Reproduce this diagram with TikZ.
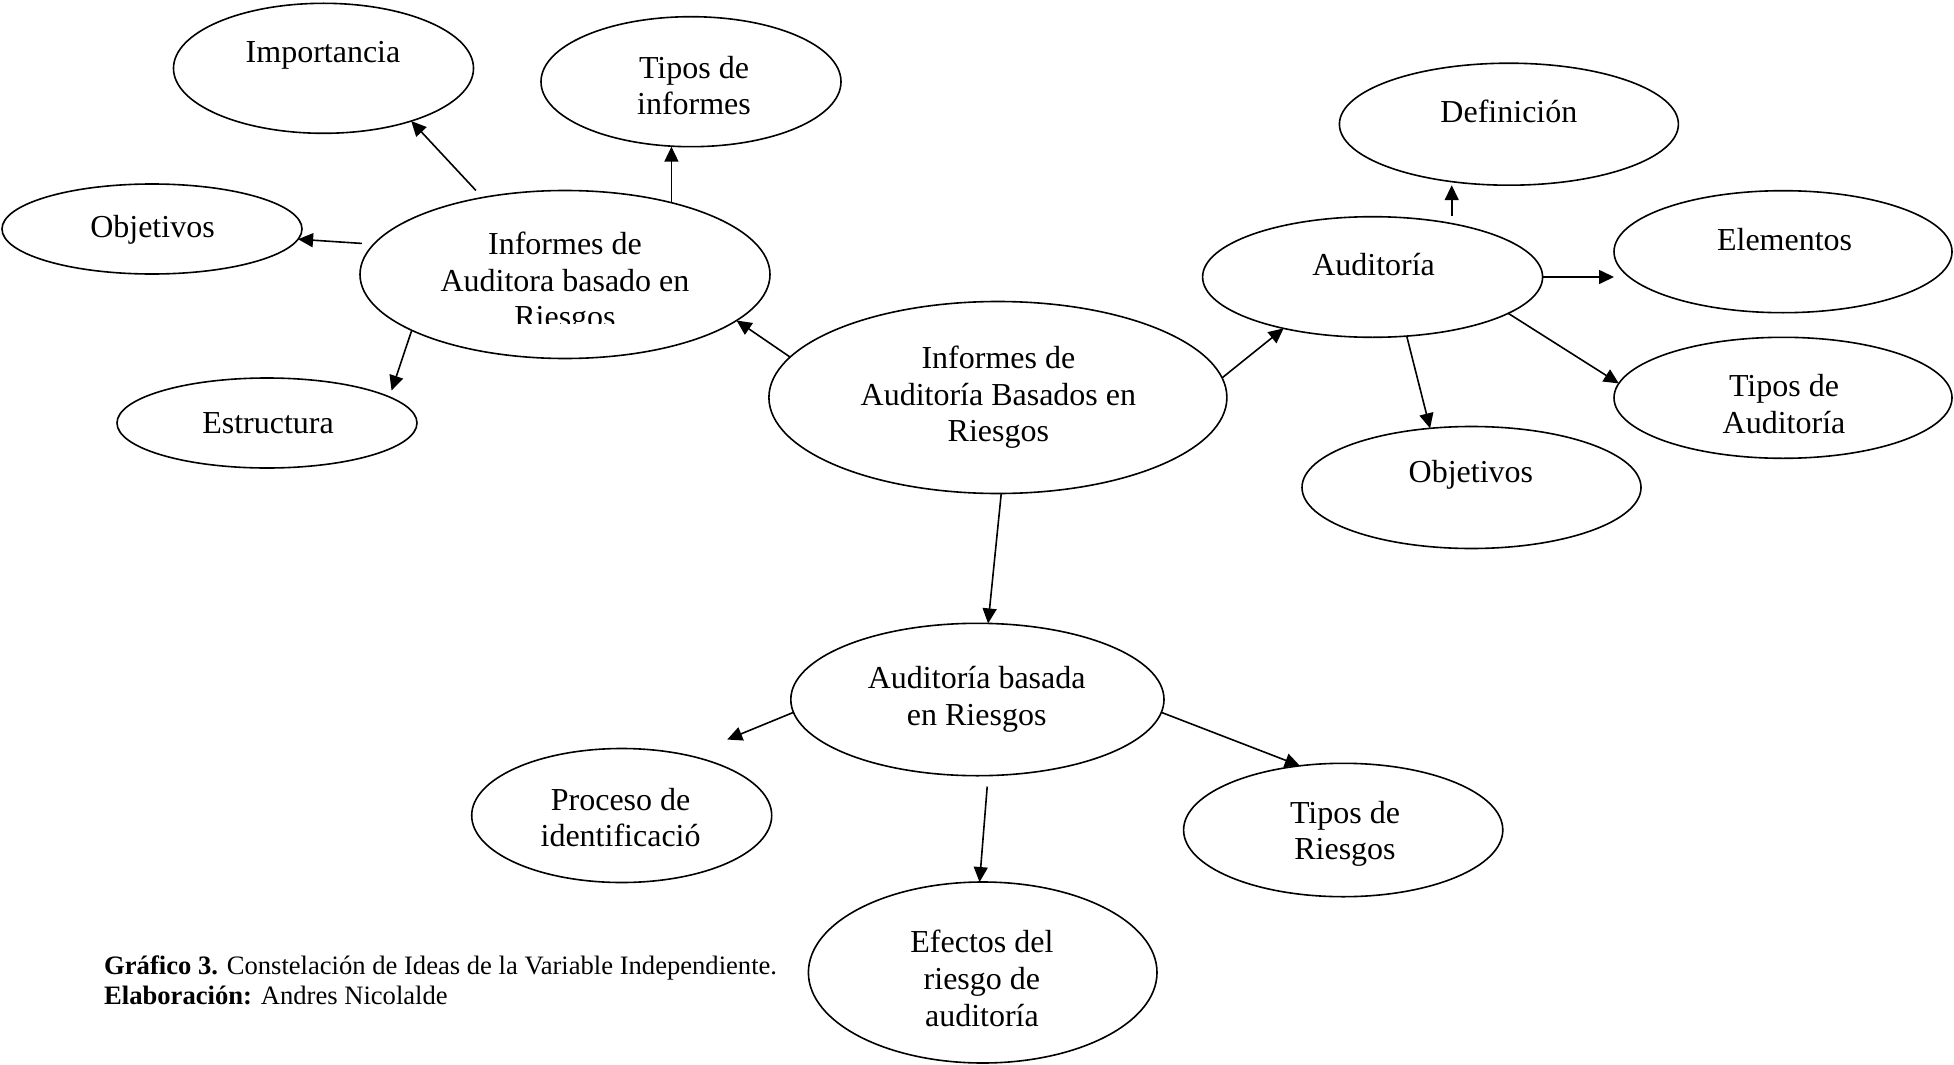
\documentclass[tikz,border=0pt]{standalone}
\usepackage{fontspec}
\setmainfont{Liberation Serif}
\usetikzlibrary{shapes.geometric,arrows.meta}
\begin{document}
\begin{tikzpicture}[x=0.5pt,y=-0.5pt,
  ell/.style={draw, ellipse, line width=0.8pt, inner sep=0pt, outer sep=0pt},
  txt/.style={font=\fontsize{16}{18.3}\selectfont, align=center, inner sep=0pt},
  arr/.style={line width=0.8pt, -{Triangle[length=7.5pt,width=7pt]}},
  capt/.style={font=\fontsize{13.3}{15}\selectfont, align=left, anchor=west, inner sep=0pt}
  ]
\useasboundingbox (0,0) rectangle (1954,1065);

% ellipses
\node[ell, minimum width=150pt, minimum height=65pt] (imp) at (323.5,68.3) {};
\node[ell, minimum width=150pt, minimum height=65pt] (tinf) at (691,81.7) {};
\node[ell, minimum width=150pt, minimum height=45pt] (objl) at (152,229) {};
\node[ell, minimum width=205pt, minimum height=84pt] (inf) at (565,274.5) {};
\node[ell, minimum width=150pt, minimum height=45pt] (estr) at (267,423) {};
\node[ell, minimum width=229pt, minimum height=96pt] (cen) at (997.9,397.5) {};
\node[ell, minimum width=169.5pt, minimum height=61pt] (def) at (1508.9,124.2) {};
\node[ell, minimum width=170pt, minimum height=60.3pt] (aud) at (1372.6,277) {};
\node[ell, minimum width=169pt, minimum height=61pt] (elem) at (1783,251.7) {};
\node[ell, minimum width=169pt, minimum height=60.5pt] (taud) at (1783,397.8) {};
\node[ell, minimum width=169.5pt, minimum height=61pt] (objr) at (1471.5,487.5) {};
\node[ell, minimum width=186.6pt, minimum height=76.2pt] (abr) at (977.4,699.5) {};
\node[ell, minimum width=150pt, minimum height=67pt] (proc) at (621.7,815.5) {};
\node[ell, minimum width=159.6pt, minimum height=66.7pt] (tri) at (1343.2,830) {};
\node[ell, minimum width=174.3pt, minimum height=90.5pt] (eff) at (982.7,972.5) {};

% texts
\node[txt] (t-imp) at (323,55) {Importancia};
\node[txt] (t-tinf) at (694,85.5) {Tipos de\\informes};
\node[txt] (t-objl) at (152.5,230) {Objetivos};
\begin{scope}
  \clip (370,190) rectangle (760,323.3);
  \node[txt] (t-inf) at (565,283.3) {Informes de\\Auditora basado en\\Riesgos};
\end{scope}
\node[txt] (t-estr) at (268,423) {Estructura};
\node[txt] (t-cen) at (998.4,397.5) {Informes de\\Auditoría Basados en\\Riesgos};
\node[txt] (t-def) at (1508.9,111.7) {Definición};
\node[txt] (t-aud) at (1373.6,265) {Auditoría};
\node[txt] (t-elem) at (1784.6,240) {Elementos};
\node[txt] (t-taud) at (1784,404.2) {Tipos de\\Auditoría};
\node[txt] (t-objr) at (1470.9,475) {Objetivos};
\node[txt] (t-abr) at (976.7,699.2) {Auditoría basada\\en Riesgos};
\node[txt] (t-proc) at (620.6,817.5) {Proceso de\\identificació};
\node[txt] (t-tri) at (1345,834) {Tipos de\\Riesgos};
\node[txt] (t-eff) at (981.9,978.3) {Efectos del\\riesgo de\\auditoría};

\node[capt] (cap) at (103.8,980) {\textbf{Gráfico 3.} Constelación de Ideas de la Variable Independiente.\\\textbf{Elaboración:} Andres Nicolalde};

% connectors
\draw[arr, shorten <=4.9pt] (inf.137.9) -- (imp.-31.8);
\draw[arr] (inf.34.6) -- (inf.34.6 |- tinf.south);
\draw[arr, shorten <=6pt] (inf.171.6) -- (objl.-4.6);
\draw[arr, shorten >=3.4pt] (inf.200) -- (estr.12.6);
\draw[arr] (cen.169) -- (inf.-15.3);
\draw[arr] (cen.5.8) -- (aud.210.7);
\draw[arr, shorten <=3.8pt] (aud.34.75) -- (aud.34.75 |- def.south);
\draw[arr] (aud.east) -- (aud.east -| elem.west);
\draw[arr] (aud.-15.3) -- (taud.175.4);
\draw[arr] (aud.-60.5) -- (objr.125.3);
\draw[arr] (cen.-88.8) -- (abr.82.7);
\draw[arr, shorten >=21pt] (abr.184) -- (proc.42.5);
\draw[arr] (abr.-4) -- (tri.124);
\draw[arr, shorten <=5.5pt] (abr.-82.2) -- (eff.92.4);
\end{tikzpicture}
\end{document}
